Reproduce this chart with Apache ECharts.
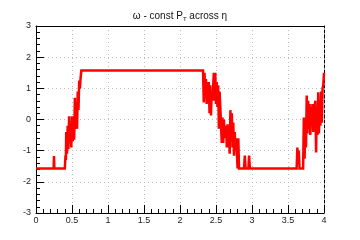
<!DOCTYPE html>
<html>
<head>
    <meta charset="utf-8">
    <script type="text/javascript" src="https://cdn.jsdelivr.net/npm/echarts@6/dist/echarts.min.js"></script>
    <style type="text/css">
        *{
            margin: 0;
            padding: 0;
        }
        #main{
            width: 360px;
            height: 240px;
            background: #fff;
        }
    </style>
</head>
<body>
<div id="main"></div>
<script type="text/javascript">
    // eta (x) and omega (y)
    var eta = [0, 0.245, 0.25, 0.255, 0.40, 0.41, 0.415, 0.42, 0.43, 0.44, 0.45, 0.46, 0.47, 0.48, 0.49, 0.50,
        0.51, 0.52, 0.53, 0.54, 0.55, 0.56, 0.57, 0.58, 0.59, 0.60, 0.61, 0.62, 0.63,
        2.32, 2.33, 2.34, 2.35, 2.36, 2.37, 2.38, 2.39, 2.40, 2.41, 2.42, 2.43, 2.44, 2.45, 2.47, 2.48, 2.49,
        2.50, 2.51, 2.52, 2.53, 2.54, 2.55, 2.56, 2.58, 2.59, 2.60, 2.61, 2.62, 2.64, 2.65, 2.66, 2.67, 2.68,
        2.69, 2.70, 2.71, 2.72, 2.73, 2.74, 2.75, 2.76, 2.77, 2.78, 2.80, 2.81, 2.82, 2.89, 2.90, 2.91, 2.95,
        2.96, 2.97,
        3.62, 3.63, 3.64, 3.65, 3.66, 3.71, 3.72, 3.73, 3.74, 3.75, 3.76, 3.77, 3.78, 3.79, 3.80, 3.81, 3.82,
        3.83, 3.84, 3.85, 3.86, 3.88, 3.89, 3.90, 3.91, 3.92, 3.93, 3.94, 3.95, 3.96, 3.97, 3.98, 3.99, 4.0];
    var omega = [-1.57, -1.57, -1.17, -1.57, -1.57, -1.15, -1.3, -0.4, -1.1, -0.2, -0.95, 0.1, -0.7, -0.3, -0.9, 0.1,
        -0.7, 0.1, -0.65, 0.7, -0.3, 0.5, -0.3, 0.9, 0.3, 1.25, 1.0, 1.35, 1.57,
        1.57, 0.55, 1.5, 0.9, 1.3, 0.5, 1.2, 0.7, 1.2, 0.2, 1.1, 0.13, 0.9, 0.6, 1.5, 0.6, 1.5,
        0.5, 1.2, 0.4, 1.1, -0.3, 0.9, 0.4, -0.75, 0.06, -0.75, 0.0, -0.6, -0.2, -0.9, -0.15, -0.9, -0.2,
        -1.1, 0.3, -0.6, 0.2, -0.9, -0.1, -1.16, -0.4, -1.0, -0.6, -1.57, -0.6, -1.57, -1.57, -1.16, -1.57, -1.57,
        -1.16, -1.57,
        -1.57, -0.9, -1.4, -1.0, -1.57, -1.57, 0.06, -1.26, -0.3, -0.9, 0.77, -0.45, 0.6, -0.3, 0.5, -0.5, 0.4,
        -0.2, 0.5, -0.4, 0.3, 0.6, -1.06, 0.4, -0.5, 0.87, -0.45, 0.6, -0.2, 0.9, -0.1, 1.0, 1.1, 1.5];

    var pts = [];
    for (var i = 0; i < eta.length; i++) {
        pts.push([eta[i], omega[i]]);
    }

    var lblStyle = {fontFamily: 'Liberation Sans', fontSize: 9, color: '#222'};
    var gridLine = {show: true, lineStyle: {color: '#bbb', type: [1, 3], width: 1}};

    var myChart = echarts.init(document.getElementById('main'));
    var option = {
        animation: false,
        title: {
            text: 'ω - const P{sub|T} across η',
            left: 'center',
            top: 5,
            textStyle: {
                fontFamily: 'Liberation Sans',
                fontSize: 10,
                fontWeight: 'normal',
                color: '#111',
                rich: {
                    sub: {fontSize: 6, verticalAlign: 'bottom', padding: [6, 0, 0, 0], fontFamily: 'Liberation Sans', color: '#111'}
                }
            }
        },
        grid: {left: 36, right: 36, top: 26, bottom: 27},
        xAxis: [{
            type: 'value', min: 0, max: 4, interval: 0.5,
            axisLine: {show: true, onZero: false, lineStyle: {color: '#000', width: 1}},
            axisTick: {show: true, inside: true, length: 8, lineStyle: {color: '#000'}},
            minorTick: {show: true, splitNumber: 5, length: 4, lineStyle: {color: '#000'}},
            axisLabel: Object.assign({margin: 3}, lblStyle),
            splitLine: gridLine
        }, {
            type: 'value', min: 0, max: 4, position: 'top',
            axisLine: {show: true, onZero: false, lineStyle: {color: '#000', width: 1}},
            axisTick: {show: false}, axisLabel: {show: false}, splitLine: {show: false}
        }],
        yAxis: [{
            type: 'value', min: -3, max: 3, interval: 1,
            axisLine: {show: true, onZero: false, lineStyle: {color: '#000', width: 1}},
            axisTick: {show: true, inside: true, length: 8, lineStyle: {color: '#000'}},
            minorTick: {show: true, splitNumber: 5, length: 4, lineStyle: {color: '#000'}},
            axisLabel: Object.assign({margin: 5}, lblStyle),
            splitLine: gridLine
        }, {
            type: 'value', min: -3, max: 3, position: 'right',
            axisLine: {show: true, onZero: false, lineStyle: {color: '#000', width: 1, type: [3, 2]}},
            axisTick: {show: false}, axisLabel: {show: false}, splitLine: {show: false}
        }],
        series: [{
            type: 'line',
            data: pts,
            showSymbol: false,
            clip: true,
            lineStyle: {color: '#ff0000', width: 2.5, join: 'miter'}
        }]
    };
    myChart.setOption(option);
</script>
</body>
</html>
